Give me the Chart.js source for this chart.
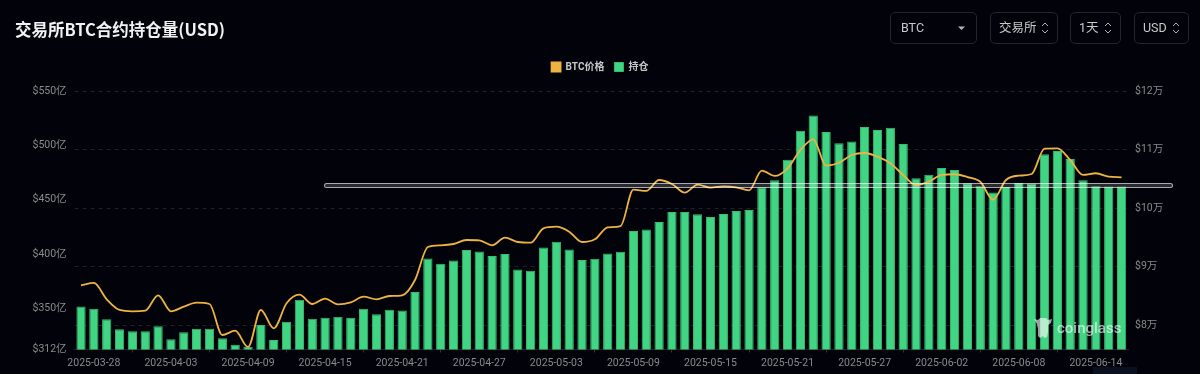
<!DOCTYPE html>
<html>
<head>
<meta charset="utf-8">
<title>交易所BTC合约持仓量(USD)</title>
<script src="https://cdn.jsdelivr.net/npm/chart.js@4"></script>
<style>
  html, body { margin: 0; padding: 0; background: #02030a; }
  body { width: 1200px; height: 374px; overflow: hidden; position: relative; font-family: Roboto, "Noto Sans CJK SC", sans-serif; }
  canvas { position: absolute; left: 0; top: 0; }
  h1 { position: absolute; left: 15px; top: 17px; margin: 0; font-size: 16.5px; line-height: 24px; font-weight: 700; color: #f2f2f2; font-family: "Noto Sans CJK SC", sans-serif; }
  .btn { position: absolute; top: 12px; height: 30px; box-sizing: content-box; border: 1px solid #23252b; border-radius: 5px; color: #c9c9c9; font-size: 12.5px; line-height: 30px; }
  .btn span { position: absolute; left: 8px; top: 0; white-space: nowrap; }
  .btn svg { position: absolute; top: 9px; }
  .mark { position: absolute; left: 324px; top: 183px; width: 847px; height: 3px; border: 1px solid rgba(255,255,255,.6); border-radius: 3px; background: rgba(255,255,255,.16); }
  .logo { position: absolute; left: 1057px; top: 316px; color: rgba(255,255,255,.62); font-size: 15px; line-height: 24px; font-weight: 500; }
  .logo-icon { position: absolute; left: 1033px; top: 316px; }
  .corner { position: absolute; left: 1093px; top: 367px; width: 44px; height: 7px; background: #0a1020; }
</style>
</head>
<body>
<canvas id="oiChart" width="1200" height="374"></canvas>
<h1>交易所BTC合约持仓量(USD)</h1>

<div class="btn" style="left:890px;width:85px"><span style="left:10px">BTC</span>
  <svg style="left:66px" width="10" height="12"><path d="M1 4.5h7l-3.5 3.5z" fill="#b5b5b5"/></svg></div>
<div class="btn" style="left:990px;width:66px"><span>交易所</span>
  <svg style="left:49px" width="10" height="12"><path d="M2 4l3-3 3 3M2 8l3 3 3-3" fill="none" stroke="#b5b5b5"/></svg></div>
<div class="btn" style="left:1070px;width:49px"><span>1天</span>
  <svg style="left:32px" width="10" height="12"><path d="M2 4l3-3 3 3M2 8l3 3 3-3" fill="none" stroke="#b5b5b5"/></svg></div>
<div class="btn" style="left:1134px;width:53px"><span>USD</span>
  <svg style="left:36px" width="10" height="12"><path d="M2 4l3-3 3 3M2 8l3 3 3-3" fill="none" stroke="#b5b5b5"/></svg></div>

<div class="mark"></div>
<svg class="logo-icon" width="20" height="24"><path d="M1 3l4 1 2-2h6l2 2 4-1-1 4-3 2v7l-1 5-3 1-1-2-3 2-2-2v-7L4 8z" fill="rgba(255,255,255,.62)"/></svg>
<div class="logo">coinglass</div>
<div class="corner"></div>

<script>
// One bar and one price point per day, 2025-03-27 to 2025-06-16
const startDay = Date.UTC(2025, 2, 27);
const openInterest = [
  351.7, 349.5, 339.8, 330.6, 328.7, 328.7, 333.3, 321.4, 327.8, 331.1,
  331.1, 322.3, 316.4, 314.6, 334.5, 320.7, 337.6, 357.8, 340.3, 341.2,
  342.1, 341.2, 349.5, 344.4, 348.6, 348.0, 364.9, 395.8, 390.9, 394.0,
  403.7, 402.3, 398.2, 400.0, 385.7, 384.4, 405.9, 411.1, 404.1, 394.5,
  395.5, 400.4, 401.9, 421.2, 422.5, 429.5, 438.7, 438.7, 436.5, 434.1,
  436.8, 439.6, 440.5, 461.4, 467.8, 486.8, 513.5, 527.5, 512.2, 501.8,
  503.4, 516.8, 514.0, 516.2, 501.2, 469.6, 473.0, 479.1, 477.3, 465.0,
  462.3, 456.5, 461.6, 465.3, 464.8, 491.7, 494.7, 487.4, 467.8, 462.3,
  462.0, 462.0
];
const btcPrice = [
  86840, 87240, 84450, 82630, 82410, 82510, 85140, 82410, 83190, 83870,
  83650, 78360, 79100, 76310, 82630, 79500, 83770, 85240, 83650, 84560,
  83600, 83940, 84900, 84450, 85020, 85140, 87750, 93380, 93670, 93890,
  94570, 94520, 93670, 94970, 94230, 94110, 96570, 96840, 95990, 94230,
  94690, 96740, 96960, 103160, 102940, 104810, 104130, 102650, 104010, 103500,
  103740, 103570, 103050, 106400, 105500, 106810, 109930, 111760, 107250, 107760,
  109080, 109420, 108790, 107660, 105670, 103960, 104520, 105670, 105790, 105320,
  104520, 101450, 104810, 105550, 105840, 110150, 110220, 108230, 105670, 105960,
  105380, 105270
];
const leftTicks = [312, 350, 400, 450, 500, 550];
const rightTicks = [80000, 90000, 100000, 110000, 120000];

const dates = openInterest.map((_, i) => new Date(startDay + i * 86400000).toISOString().slice(0, 10));

const tickFont = { family: 'Roboto, "Noto Sans CJK SC", sans-serif', size: 10.5 };
const tickColor = '#8a8a8a';

new Chart(document.getElementById('oiChart').getContext('2d'), {
  data: {
    labels: dates,
    datasets: [
      {
        type: 'line',
        label: 'BTC价格',
        data: btcPrice,
        yAxisID: 'yPrice',
        borderColor: '#eeb341',
        backgroundColor: '#eeb341',
        borderWidth: 1.8,
        pointRadius: 0,
        cubicInterpolationMode: 'monotone',
        order: 0
      },
      {
        type: 'bar',
        label: '持仓',
        data: openInterest,
        yAxisID: 'yOi',
        backgroundColor: '#41d583',
        borderColor: '#35bd73',
        borderWidth: 1,
        barPercentage: 0.72,
        categoryPercentage: 1,
        order: 1
      }
    ]
  },
  options: {
    responsive: false,
    animation: false,
    layout: { padding: { top: 52, left: 0, right: 0, bottom: 0 } },
    plugins: {
      tooltip: { enabled: false },
      legend: {
        position: 'top',
        labels: {
          boxWidth: 9,
          boxHeight: 9,
          padding: 10,
          color: '#c8c8c8',
          font: { family: 'Roboto, "Noto Sans CJK SC", sans-serif', size: 10, weight: '700' }
        }
      }
    },
    scales: {
      x: {
        offset: true,
        border: { color: '#23252b' },
        grid: { drawOnChartArea: false, color: '#33353b', tickLength: 3 },
        ticks: { color: tickColor, font: tickFont, autoSkip: false, maxRotation: 0, padding: 5 },
        afterBuildTicks: (s) => { s.ticks = s.ticks.filter(t => (t.value - 1) % 6 === 0); },
        afterFit: (s) => { s.height = 24.5; }
      },
      yOi: {
        position: 'left',
        min: 312,
        max: 550,
        border: { display: false },
        grid: { display: false, drawTicks: false },
        ticks: { color: tickColor, font: tickFont, padding: 8, callback: (v) => '$' + v + '亿' },
        afterBuildTicks: (s) => { s.ticks = leftTicks.map(v => ({ value: v })); },
        afterFit: (s) => { s.width = 74.6; }
      },
      yPrice: {
        position: 'right',
        min: 75887,
        max: 120000,
        border: { display: false, dash: [4, 4] },
        grid: { color: 'rgba(255,255,255,.12)', drawTicks: false },
        ticks: { color: tickColor, font: tickFont, padding: 7, callback: (v) => '$' + (v / 10000) + '万' },
        afterBuildTicks: (s) => { s.ticks = rightTicks.map(v => ({ value: v })); },
        afterFit: (s) => { s.width = 72; }
      }
    }
  },
  plugins: [{
    // extra gap under the legend so the plot starts where the source does
    id: 'legendGap',
    beforeInit(chart) {
      const fit = chart.legend.fit;
      chart.legend.fit = function () {
        fit.call(this);
        this.height += 9;
      };
    }
  }]
});
</script>
</body>
</html>
